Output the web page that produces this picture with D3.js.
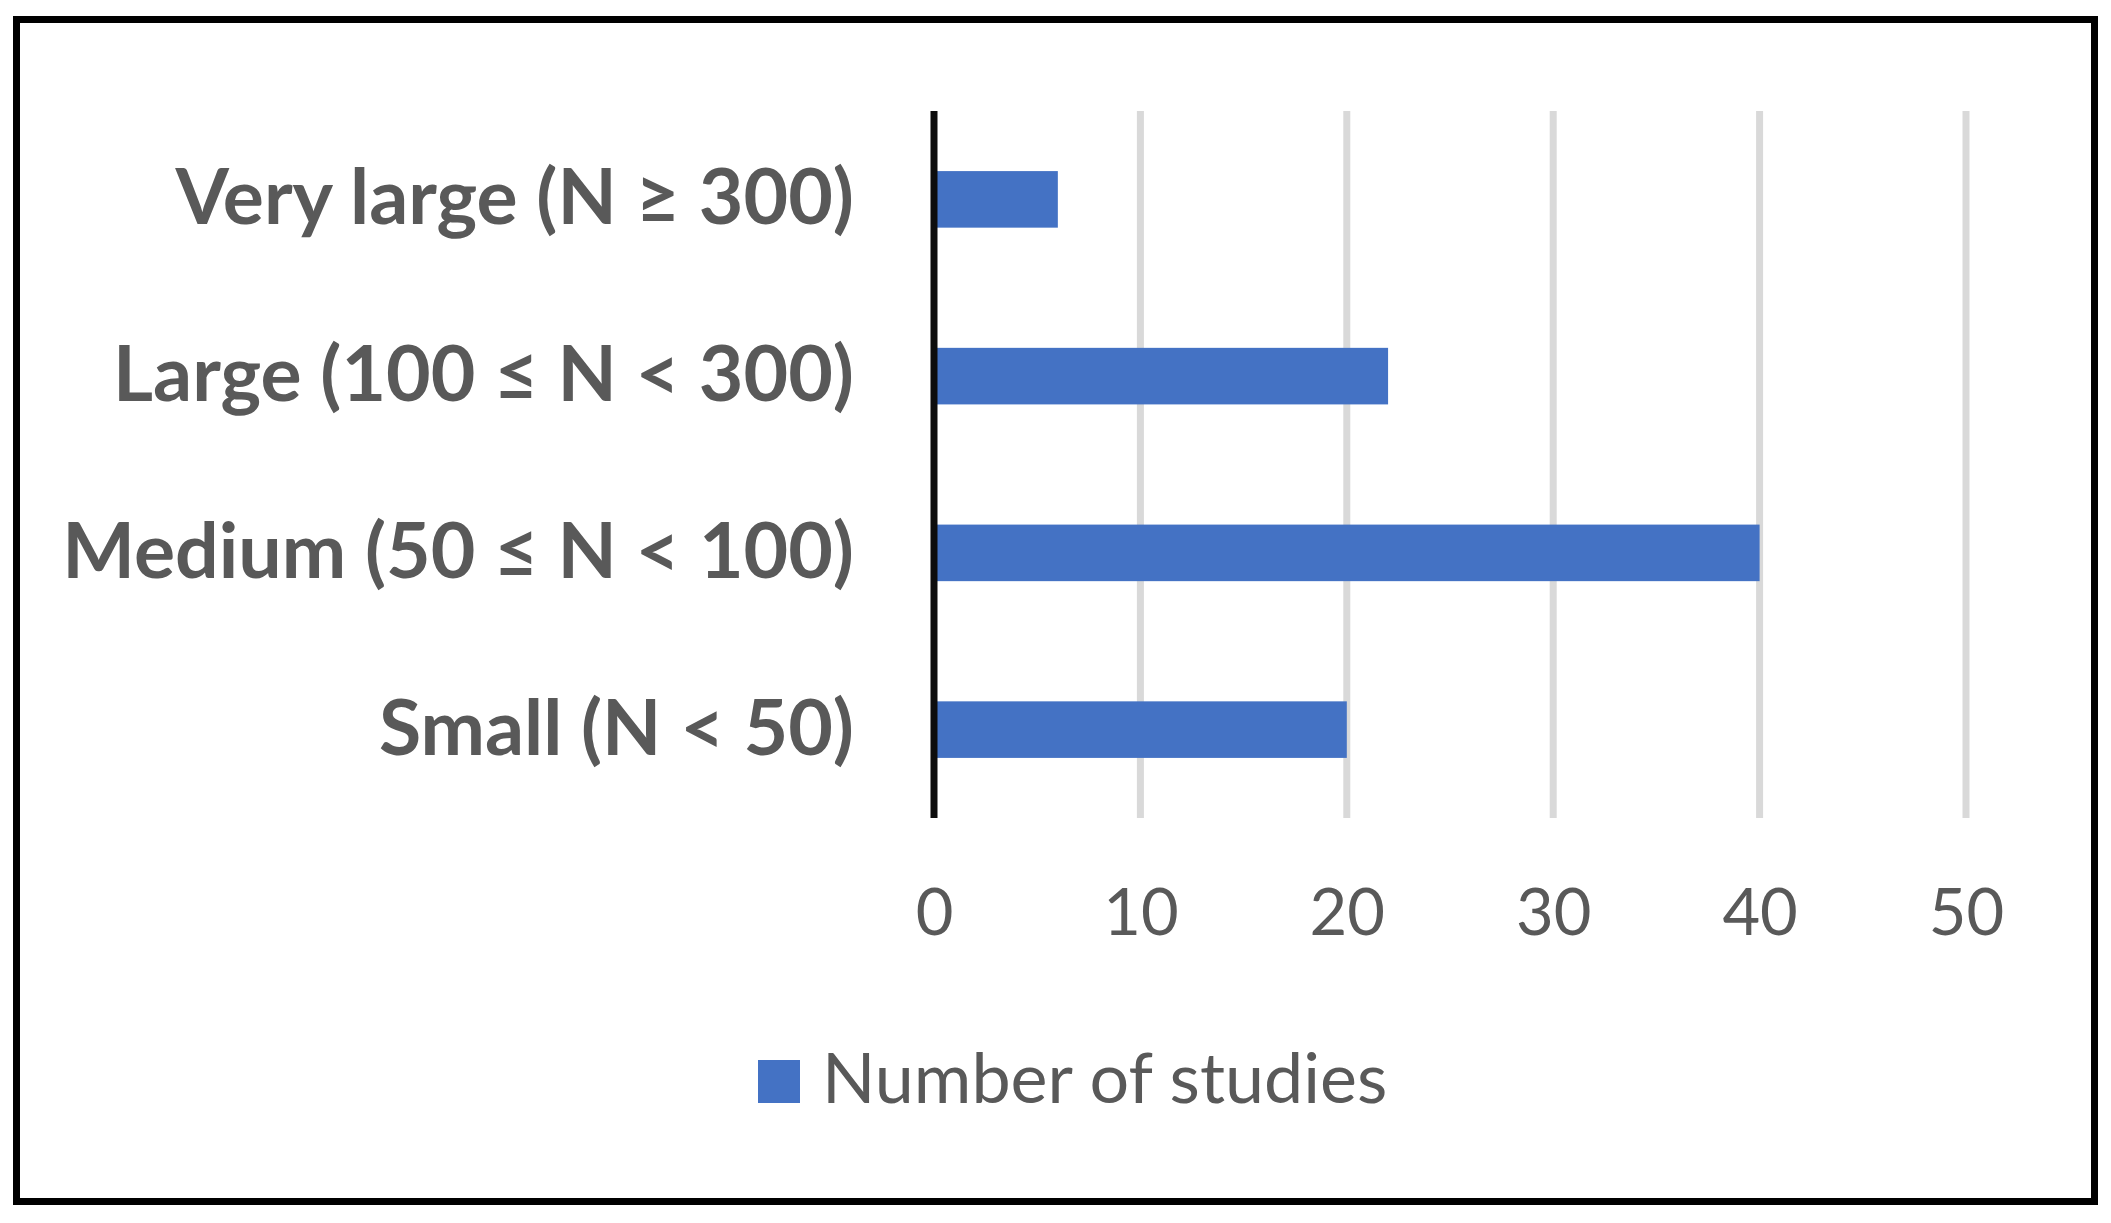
<!DOCTYPE html>
<html>
<head>
<meta charset="utf-8">
<script src="https://cdn.jsdelivr.net/npm/d3@7"></script>
<style>
  body { margin: 0; background: #fff; }
</style>
</head>
<body>
<div id="chart"></div>
<script>
const categories = ["Very large (N \u2265 300)", "Large (100 \u2264 N < 300)", "Medium (50 \u2264 N < 100)", "Small (N < 50)"];
const studies = [6, 22, 40, 20];
const xTicks = [0, 10, 20, 30, 40, 50];
const seriesName = "Number of studies";

const W = 2111, H = 1223;
const margin = { top: 111, right: 145, bottom: 405, left: 934 }
const width = W - margin.left - margin.right,
    height = H - margin.top - margin.bottom;

const textColor = "#595959";
const barColor = "#4472C4";

const svg = d3.select("#chart")
    .append("svg")
    .attr("width", W)
    .attr("height", H);

svg.append("rect")
    .attr("width", W).attr("height", H)
    .attr("fill", "#fff");

// outer frame
svg.append("rect")
    .attr("x", 16.5).attr("y", 19.5)
    .attr("width", 2078).attr("height", 1182)
    .attr("fill", "none")
    .attr("stroke", "#000")
    .attr("stroke-width", 7);

const g = svg.append("g")
    .attr("transform", `translate(${margin.left}, ${margin.top})`);

const x = d3.scaleLinear()
    .domain([0, 50])
    .range([0, width]);

const y = d3.scaleBand()
    .domain(categories)
    .range([0, height])
    .paddingInner(0.68)
    .paddingOuter(0.34);

// gridlines
g.append("g")
    .selectAll("line")
    .data(xTicks.slice(1))
    .join("line")
    .attr("x1", d => x(d)).attr("x2", d => x(d))
    .attr("y1", 0).attr("y2", height)
    .attr("stroke", "#d9d9d9")
    .attr("stroke-width", 7);

// bars
g.append("g")
    .selectAll("rect")
    .data(categories)
    .join("rect")
    .attr("x", x(0))
    .attr("y", d => y(d))
    .attr("width", (d, i) => x(studies[i]) - x(0))
    .attr("height", y.bandwidth())
    .attr("fill", barColor);

// vertical category axis
g.append("line")
    .attr("x1", x(0)).attr("x2", x(0))
    .attr("y1", 0).attr("y2", height)
    .attr("stroke", "#0d0d0d")
    .attr("stroke-width", 7);

// category labels
g.append("g")
    .selectAll("text")
    .data(categories)
    .join("text")
    .attr("x", -80)
    .attr("y", d => y(d) + y.bandwidth() / 2 + 25)
    .attr("text-anchor", "end")
    .style("font-family", "Lato, 'Open Sans', sans-serif")
    .style("font-weight", "bold")
    .style("font-size", "77px")
    .style("fill", textColor)
    .text(d => d);

// x axis tick labels
const xAxis = g.append("g")
    .attr("transform", `translate(0, ${height})`)
    .call(d3.axisBottom(x).tickValues(xTicks).tickSize(0).tickPadding(0));
xAxis.select(".domain").remove();
xAxis.selectAll("text")
    .attr("dy", 0)
    .attr("y", 117)
    .style("font-family", "Lato, 'Open Sans', sans-serif")
    .style("font-size", "65px")
    .style("fill", textColor);

// legend
const legend = svg.append("g");
legend.append("rect")
    .attr("x", 758).attr("y", 1060)
    .attr("width", 42).attr("height", 43)
    .attr("fill", barColor);
legend.append("text")
    .attr("x", 822).attr("y", 1103)
    .style("font-family", "Lato, 'Open Sans', sans-serif")
    .style("font-size", "70px")
    .style("fill", textColor)
    .text(seriesName);
</script>
</body>
</html>
